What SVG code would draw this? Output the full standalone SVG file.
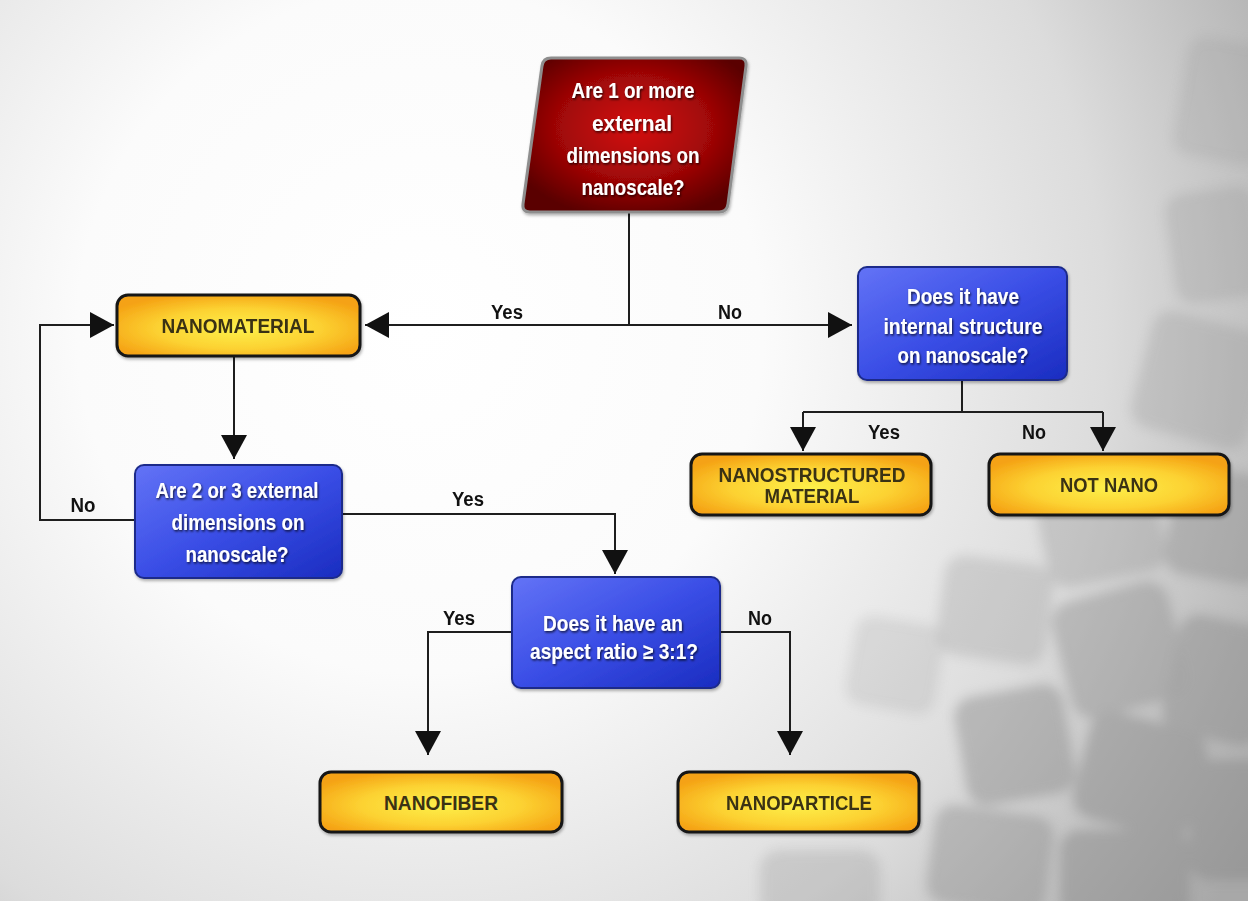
<svg xmlns="http://www.w3.org/2000/svg" width="1248" height="901" viewBox="0 0 1248 901">
<style>
.w{font-family:"Liberation Sans",Arial,sans-serif;font-weight:bold;font-size:22px;fill:#fff;text-anchor:middle;filter:url(#ts)}
.o{font-family:"Liberation Sans",Arial,sans-serif;font-weight:bold;font-size:21px;fill:#3a3214;text-anchor:middle}
.l{font-family:"Liberation Sans",Arial,sans-serif;font-weight:bold;font-size:20px;fill:#111;text-anchor:middle}
.ob{fill:url(#og);stroke:#141414;stroke-width:3}
.bb{fill:url(#bg);stroke:#1b2a8a;stroke-width:2}
.c{fill:none;stroke:#1e1e1e;stroke-width:2}
.a{marker-end:url(#ah)}
</style>
<defs>
<radialGradient id="bgr" cx="420" cy="330" r="980" gradientUnits="userSpaceOnUse">
<stop offset="0" stop-color="#ffffff"/><stop offset="0.35" stop-color="#fbfbfb"/><stop offset="0.7" stop-color="#dcdcdc"/><stop offset="1" stop-color="#a8a8a8"/>
</radialGradient>
<radialGradient id="og" cx="0.5" cy="0.55" r="0.6">
<stop offset="0" stop-color="#fdf04a"/><stop offset="0.55" stop-color="#fcd232"/><stop offset="1" stop-color="#f5a214"/>
</radialGradient>
<linearGradient id="bg" x1="0" y1="0" x2="1" y2="1">
<stop offset="0" stop-color="#6373f6"/><stop offset="0.5" stop-color="#3a4ee6"/><stop offset="1" stop-color="#1a2cc0"/>
</linearGradient>
<radialGradient id="rg" cx="0.5" cy="0.45" r="0.6">
<stop offset="0" stop-color="#d41010"/><stop offset="0.6" stop-color="#9c0606"/><stop offset="1" stop-color="#5a0000"/>
</radialGradient>
<filter id="ts" x="-10%" y="-30%" width="120%" height="160%">
<feDropShadow dx="1" dy="1.5" stdDeviation="0.8" flood-color="#000" flood-opacity="0.75"/>
</filter>
<filter id="bl" x="-20%" y="-20%" width="140%" height="140%"><feGaussianBlur stdDeviation="6"/></filter>
<filter id="bs" x="-10%" y="-10%" width="120%" height="130%">
<feDropShadow dx="1" dy="2" stdDeviation="1.5" flood-color="#000" flood-opacity="0.3"/>
</filter>
<marker id="ah" markerUnits="userSpaceOnUse" markerWidth="26" markerHeight="26" refX="24" refY="13" orient="auto">
<path d="M0,0 L24,13 L0,26 z" fill="#111"/>
</marker>
</defs>
<rect width="1248" height="901" fill="url(#bgr)"/>
<g fill="#8a8a8a" filter="url(#bl)" opacity="0.5">
<rect x="1180" y="40" width="90" height="120" rx="18" transform="rotate(10 1220 100)" opacity="0.35"/>
<rect x="1170" y="190" width="90" height="110" rx="18" transform="rotate(-8 1215 245)" opacity="0.45"/>
<rect x="1140" y="320" width="120" height="120" rx="20" transform="rotate(15 1200 380)" opacity="0.5"/>
<rect x="1040" y="470" width="120" height="110" rx="20" transform="rotate(-12 1100 525)" opacity="0.6"/>
<rect x="1170" y="470" width="100" height="110" rx="20" transform="rotate(10 1220 525)" opacity="0.8"/>
<rect x="940" y="560" width="110" height="100" rx="20" transform="rotate(8 995 610)" opacity="0.5"/>
<rect x="1060" y="590" width="120" height="120" rx="22" transform="rotate(-15 1120 650)" opacity="0.8"/>
<rect x="1170" y="620" width="100" height="120" rx="20" transform="rotate(12 1220 680)" opacity="0.9"/>
<rect x="850" y="620" width="90" height="90" rx="18" transform="rotate(10 895 665)" opacity="0.35"/>
<rect x="960" y="690" width="110" height="110" rx="20" transform="rotate(-10 1015 745)" opacity="0.9"/>
<rect x="1080" y="720" width="120" height="110" rx="22" transform="rotate(15 1140 775)" opacity="1"/>
<rect x="1190" y="760" width="90" height="120" rx="18" opacity="1"/>
<rect x="930" y="810" width="120" height="100" rx="20" transform="rotate(8 990 860)" opacity="0.8"/>
<rect x="1060" y="830" width="130" height="90" rx="20" opacity="1"/>
<rect x="760" y="850" width="120" height="70" rx="20" opacity="0.5"/>
</g>
<g id="connectors">
<path class="c" d="M629,212 V325"/>
<path class="c a" d="M629,325 H365"/>
<path class="c a" d="M629,325 H852"/>
<path class="c a" d="M234,357 V459"/>
<path class="c a" d="M135,520 H40 V325 H114"/>
<path class="c a" d="M342,514 H615 V574"/>
<path class="c a" d="M512,632 H428 V755"/>
<path class="c a" d="M720,632 H790 V755"/>
<path class="c" d="M962,380 V412 M803,412 H1103"/>
<path class="c a" d="M803,412 V451"/>
<path class="c a" d="M1103,412 V451"/>
<text class="l" x="507" y="319" textLength="32" lengthAdjust="spacingAndGlyphs">Yes</text>
<text class="l" x="730" y="319" textLength="24" lengthAdjust="spacingAndGlyphs">No</text>
<text class="l" x="884" y="439" textLength="32" lengthAdjust="spacingAndGlyphs">Yes</text>
<text class="l" x="1034" y="439" textLength="24" lengthAdjust="spacingAndGlyphs">No</text>
<text class="l" x="83" y="512" textLength="25" lengthAdjust="spacingAndGlyphs">No</text>
<text class="l" x="468" y="506" textLength="32" lengthAdjust="spacingAndGlyphs">Yes</text>
<text class="l" x="459" y="625" textLength="32" lengthAdjust="spacingAndGlyphs">Yes</text>
<text class="l" x="760" y="625" textLength="24" lengthAdjust="spacingAndGlyphs">No</text>
</g>
<g id="q1">
<path d="M551,58 H739 Q747,58 746,66 L728,204 Q727,212 719,212 H530 Q522,212 523,204 L542,66 Q543,58 551,58 Z" fill="url(#rg)" stroke="#8e8e8e" stroke-width="3" filter="url(#bs)"/>
<text class="w" x="633" y="98" textLength="123" lengthAdjust="spacingAndGlyphs">Are 1 or more</text>
<text class="w" x="632" y="131" textLength="80" lengthAdjust="spacingAndGlyphs">external</text>
<text class="w" x="633" y="163" textLength="133" lengthAdjust="spacingAndGlyphs">dimensions on</text>
<text class="w" x="633" y="195" textLength="103" lengthAdjust="spacingAndGlyphs">nanoscale?</text>
</g>
<g id="nanomaterial">
<rect class="ob" x="117" y="295" width="243" height="61" rx="11" filter="url(#bs)"/>
<text class="o" x="238" y="333" textLength="153" lengthAdjust="spacingAndGlyphs">NANOMATERIAL</text>
</g>
<g id="q2">
<rect class="bb" x="858" y="267" width="209" height="113" rx="9" filter="url(#bs)"/>
<text class="w" x="963" y="304" textLength="112" lengthAdjust="spacingAndGlyphs">Does it have</text>
<text class="w" x="963" y="334" textLength="159" lengthAdjust="spacingAndGlyphs">internal structure</text>
<text class="w" x="963" y="363" textLength="131" lengthAdjust="spacingAndGlyphs">on nanoscale?</text>
</g>
<g id="nanostructured">
<rect class="ob" x="691" y="454" width="240" height="61" rx="11" filter="url(#bs)"/>
<text class="o" x="812" y="482" textLength="187" lengthAdjust="spacingAndGlyphs">NANOSTRUCTURED</text>
<text class="o" x="812" y="503" textLength="95" lengthAdjust="spacingAndGlyphs">MATERIAL</text>
</g>
<g id="notnano">
<rect class="ob" x="989" y="454" width="240" height="61" rx="11" filter="url(#bs)"/>
<text class="o" x="1109" y="492" textLength="98" lengthAdjust="spacingAndGlyphs">NOT NANO</text>
</g>
<g id="q3">
<rect class="bb" x="135" y="465" width="207" height="113" rx="9" filter="url(#bs)"/>
<text class="w" x="237" y="498" textLength="163" lengthAdjust="spacingAndGlyphs">Are 2 or 3 external</text>
<text class="w" x="238" y="530" textLength="133" lengthAdjust="spacingAndGlyphs">dimensions on</text>
<text class="w" x="237" y="562" textLength="103" lengthAdjust="spacingAndGlyphs">nanoscale?</text>
</g>
<g id="q4">
<rect class="bb" x="512" y="577" width="208" height="111" rx="9" filter="url(#bs)"/>
<text class="w" x="613" y="631" textLength="140" lengthAdjust="spacingAndGlyphs">Does it have an</text>
<text class="w" x="614" y="659" textLength="168" lengthAdjust="spacingAndGlyphs">aspect ratio ≥ 3:1?</text>
</g>
<g id="nanofiber">
<rect class="ob" x="320" y="772" width="242" height="60" rx="11" filter="url(#bs)"/>
<text class="o" x="441" y="810" textLength="114" lengthAdjust="spacingAndGlyphs">NANOFIBER</text>
</g>
<g id="nanoparticle">
<rect class="ob" x="678" y="772" width="241" height="60" rx="11" filter="url(#bs)"/>
<text class="o" x="799" y="810" textLength="146" lengthAdjust="spacingAndGlyphs">NANOPARTICLE</text>
</g>
</svg>
